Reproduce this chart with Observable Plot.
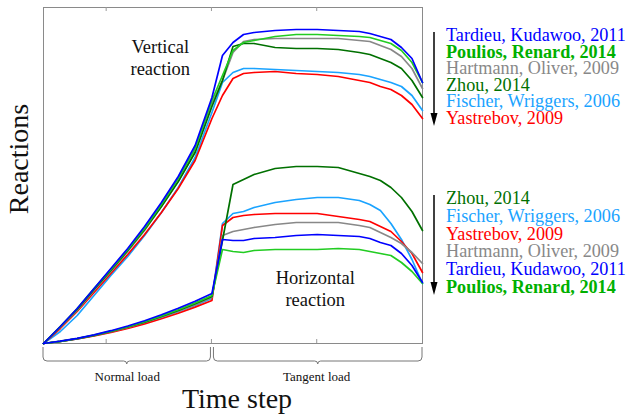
<!DOCTYPE html>
<html>
<head>
<meta charset="utf-8">
<script src="https://cdn.jsdelivr.net/npm/d3@7"></script>
<script src="https://cdn.jsdelivr.net/npm/@observablehq/plot@0.6"></script>
<style>
  html, body { margin: 0; padding: 0; background: #fff; }
  #chart svg { display: block; }
  #chart svg text { font-family: "Liberation Serif", "Times New Roman", serif; }
</style>
</head>
<body>
<div id="chart"></div>
<script>
// Time steps: 0..8 normal load, 8..18 tangent load
const times = [0,0.8,1.6,2.4,3.2,4,4.8,5.6,6.4,7.2,8, 8.5,9,9.5,10,11,12,13,14,15,15.5,16,16.5,17,17.5,18];
const tickSteps = [3, 8, 13];
const phaseBounds = [[0, 8], [8, 18]];

// Vertical reaction (arbitrary units)
const vTardieu    = [0,17,35,55,75,95,117,141,167,198,246, 288,301,309,311,313,314,314,313,312,310,307,304,296,285,261];
const vPoulios    = [0,17,35,55,74,94,115,139,165,195,243, 268,293,301,303,307,309,309,308,307,306,303,300,293,281,261];
const vHartmann   = [0,16,33,53,72,92,113,137,162,192,240, 263,291,302,304,305,305,305,305,303,302,298,294,287,275,255];
const vZhou       = [0,17,34,54,73,93,114,137,162,191,237, 263,297,300,300,296,295,295,294,291,289,285,281,275,263,246];
const vFischer    = [0,12,28,48,68,87,108,131,156,186,231, 261,271,275,275,274,273,272,271,269,267,264,261,257,248,233];
const vYastrebov  = [0,15,32,51,70,89,109,131,155,183,225, 248,265,270,271,272,270,269,267,263,261,257,254,248,239,225];

// Horizontal reaction (arbitrary units)
const hTardieu    = [0,2.3,5.2,8.7,12.8,17.5,22.8,28.7,35.2,42.3,50, 104,103,103,105,106,108,109,108,107,105,101,98,90,78,61];
const hPoulios    = [0,2.2,5,8.4,12.3,16.8,21.9,27.6,33.8,40.6,48, 94,92,91,93,94,94,94,95,94,92,90,88,81,72,60];
const hHartmann   = [0,2.1,4.8,8,11.8,16.1,21,26.4,32.4,38.9,46, 108,112,114,116,119,121,121,121,118,116,111,106,100,91,80];
const hZhou       = [0,2.2,4.9,8.2,12,16.5,21.4,27,33.1,39.8,47, 103,159,164,169,175,177,177,176,170,167,163,156,146,132,113];
const hFischer    = [0,2,4.7,7.8,11.5,15.8,20.5,25.8,31.7,38,45, 120,130,132,136,141,144,146,146,143,139,133,120,104,84,60];
const hYastrebov  = [0,2,4.5,7.5,11,15,19.6,24.7,30.3,36.4,43, 118,126,128,129,130,130,130,127,124,122,117,112,102,90,71];

const seriesNames = ["Tardieu, Kudawoo, 2011","Poulios, Renard, 2014","Hartmann, Oliver, 2009","Zhou, 2014","Fischer, Wriggers, 2006","Yastrebov, 2009"];
const seriesColors = ["#0000ff","#22cc22","#888888","#007000","#1aa3ff","#ff0000"];
const textColors   = ["#0000ff","#00b000","#888888","#007000","#1aa3ff","#ff0000"];
const boldNames    = ["Poulios, Renard, 2014"];
const verticalOrder   = ["Tardieu, Kudawoo, 2011","Poulios, Renard, 2014","Hartmann, Oliver, 2009","Zhou, 2014","Fischer, Wriggers, 2006","Yastrebov, 2009"];
const horizontalOrder = ["Zhou, 2014","Fischer, Wriggers, 2006","Yastrebov, 2009","Hartmann, Oliver, 2009","Tardieu, Kudawoo, 2011","Poulios, Renard, 2014"];
const phaseLabels = ["Normal load","Tangent load"];

const vData = [vTardieu, vPoulios, vHartmann, vZhou, vFischer, vYastrebov];
const hData = [hTardieu, hPoulios, hHartmann, hZhou, hFischer, hYastrebov];

const rows = [];
seriesNames.forEach((name, i) => {
  times.forEach((t, j) => {
    rows.push({name, comp: "V", t, r: vData[i][j]});
    rows.push({name, comp: "H", t, r: hData[i][j]});
  });
});
const drawOrder = [4, 5, 2, 3, 1, 0];
const lineMarks = [];
drawOrder.forEach(i => {
  const name = seriesNames[i];
  ["V","H"].forEach(c => {
    lineMarks.push(Plot.line(rows.filter(d => d.name === name && d.comp === c),
      {x: "t", y: "r", stroke: seriesColors[i], strokeWidth: 1.7, strokeLinejoin: "round"}));
  });
});

const font = "'Liberation Serif', 'Times New Roman', serif";
const chart = Plot.plot({
  width: 627, height: 414,
  marginLeft: 43, marginRight: 205, marginTop: 7, marginBottom: 71,
  x: {domain: [0, 18], axis: null},
  y: {domain: [0, 336], axis: null},
  style: {fontFamily: font, background: "#fff", overflow: "visible"},
  marks: [
    Plot.frame({stroke: "#8a8a8a", strokeWidth: 1}),
    ...lineMarks
  ]
});
document.getElementById("chart").appendChild(chart);

// Annotations using the chart's own scales
const xs = chart.scale("x"), ys = chart.scale("y");
const X = d3.scaleLinear(xs.domain, xs.range);
const Y = d3.scaleLinear(ys.domain, ys.range);
const svg = d3.select(chart);
const g = svg.append("g").attr("font-family", font);
const yTop = Y(ys.domain[1]), yBot = Y(ys.domain[0]);

// inward ticks on top and bottom
tickSteps.forEach(t => {
  g.append("line").attr("x1", X(t)).attr("x2", X(t)).attr("y1", yTop).attr("y2", yTop + 4).attr("stroke", "#999");
  g.append("line").attr("x1", X(t)).attr("x2", X(t)).attr("y1", yBot).attr("y2", yBot - 4).attr("stroke", "#999");
});

// braces
function brace(x0, x1) {
  const y0 = yBot + 4, yh = yBot + 18, xm = (x0 + x1) / 2;
  return `M${x0},${y0}V${yh-4}Q${x0},${yh} ${x0+4},${yh}H${xm-3}Q${xm},${yh} ${xm},${yh+3}Q${xm},${yh} ${xm+3},${yh}H${x1-4}Q${x1},${yh} ${x1},${yh-4}V${y0}`;
}
phaseBounds.forEach(([a, b], i) => {
  const x0 = X(a) + (i === 1 ? 2 : 0), x1 = X(b) - (i === 0 ? 1 : 0);
  g.append("path").attr("d", brace(x0, x1)).attr("fill", "none").attr("stroke", "#777").attr("stroke-width", 1);
  g.append("text").attr("x", X((a + b) / 2)).attr("y", yBot + 38).attr("text-anchor", "middle")
    .attr("font-size", 13).attr("fill", "#111").text(phaseLabels[i]);
});

// axis titles
g.append("text").attr("x", 237).attr("y", 408).attr("text-anchor", "middle")
  .attr("font-size", 28).attr("fill", "#111").text("Time step");
g.append("text").attr("transform", `translate(28,${(yTop + yBot) / 2 - 16}) rotate(-90)`).attr("text-anchor", "middle")
  .attr("font-size", 28).attr("fill", "#111").text("Reactions");

// region labels
[["Vertical", 5.57, 290], ["reaction", 5.57, 268], ["Horizontal", 12.93, 59], ["reaction", 12.93, 37]].forEach(([s, t, r]) => {
  g.append("text").attr("x", X(t)).attr("y", Y(r)).attr("text-anchor", "middle")
    .attr("font-size", 18.5).attr("fill", "#111").text(s);
});

// legends with arrows
function legend(order, y0, step) {
  const lx = X(18) + 24;
  order.forEach((name, k) => {
    const i = seriesNames.indexOf(name);
    g.append("text").attr("x", lx).attr("y", y0 + k * step).attr("font-size", 18.2)
      .attr("text-anchor", "start")
      .attr("font-weight", boldNames.includes(name) ? "bold" : "normal")
      .attr("fill", textColors[i]).text(name);
  });
  const ax = X(18) + 12, ay0 = y0 - 9, ay1 = y0 + (order.length - 1) * step;
  g.append("line").attr("x1", ax).attr("x2", ax).attr("y1", ay0).attr("y2", ay1 - 8).attr("stroke", "#000").attr("stroke-width", 1.5);
  g.append("path").attr("d", `M${ax-3.5},${ay1-11}L${ax+3.5},${ay1-11}L${ax},${ay1+2}Z`).attr("fill", "#000");
}
legend(verticalOrder, 41, 16.6);
legend(horizontalOrder, 204, 17.8);
</script>
</body>
</html>
